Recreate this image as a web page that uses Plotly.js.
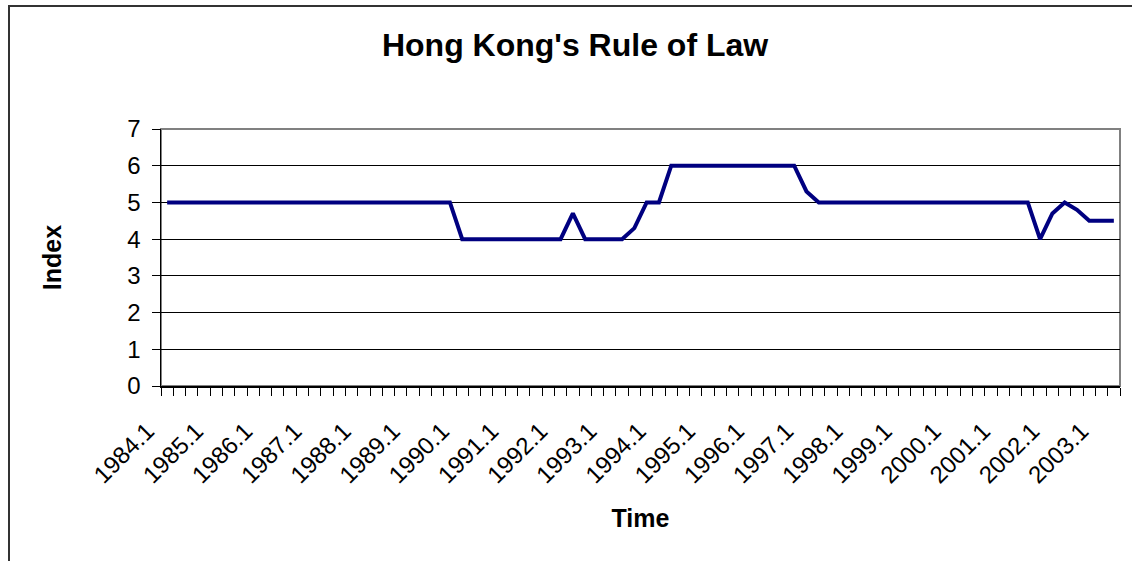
<!DOCTYPE html>
<html>
<head>
<meta charset="utf-8">
<script src="https://cdn.plot.ly/plotly-3.0.1.min.js"></script>
<style>
  html, body { margin: 0; padding: 0; background: #fff; }
  #chart { width: 1132px; height: 561px; position: relative; }
  #frame { position: absolute; left: 8px; top: 5px; width: 2000px; height: 2000px;
           border-left: 2px solid #333; border-top: 2px solid #333; pointer-events: none; }
  #wrap { position: relative; width: 1132px; height: 561px; overflow: hidden; }
</style>
</head>
<body>
<div id="wrap">
  <div id="chart"></div>
  <div id="frame"></div>
</div>
<script>
const categories = [
  "1984.1","1984.2","1984.3","1984.4",
  "1985.1","1985.2","1985.3","1985.4",
  "1986.1","1986.2","1986.3","1986.4",
  "1987.1","1987.2","1987.3","1987.4",
  "1988.1","1988.2","1988.3","1988.4",
  "1989.1","1989.2","1989.3","1989.4",
  "1990.1","1990.2","1990.3","1990.4",
  "1991.1","1991.2","1991.3","1991.4",
  "1992.1","1992.2","1992.3","1992.4",
  "1993.1","1993.2","1993.3","1993.4",
  "1994.1","1994.2","1994.3","1994.4",
  "1995.1","1995.2","1995.3","1995.4",
  "1996.1","1996.2","1996.3","1996.4",
  "1997.1","1997.2","1997.3","1997.4",
  "1998.1","1998.2","1998.3","1998.4",
  "1999.1","1999.2","1999.3","1999.4",
  "2000.1","2000.2","2000.3","2000.4",
  "2001.1","2001.2","2001.3","2001.4",
  "2002.1","2002.2","2002.3","2002.4",
  "2003.1","2003.2"
];

const ruleOfLaw = [
  5, 5, 5, 5,
  5, 5, 5, 5,
  5, 5, 5, 5,
  5, 5, 5, 5,
  5, 5, 5, 5,
  5, 5, 5, 5,
  4, 4, 4, 4,
  4, 4, 4, 4,
  4, 4.7, 4, 4,
  4, 4, 4.3, 5,
  5, 6, 6, 6,
  6, 6, 6, 6,
  6, 6, 6, 6,
  5.3, 5, 5, 5,
  5, 5, 5, 5,
  5, 5, 5, 5,
  5, 5, 5, 5,
  5, 5, 5, 4,
  4.7, 5, 4.8, 4.5,
  4.5, 4.5
];

const labelEvery = 4;
const tickText = categories.map((c, i) => (i % labelEvery === 0 ? c : ""));

const yTicks = [0, 1, 2, 3, 4, 5, 6, 7];

const font = "Liberation Sans, Arial, sans-serif";

const trace = {
  x: categories,
  y: ruleOfLaw,
  type: "scatter",
  mode: "lines",
  line: { color: "#000080", width: 4 },
  hoverinfo: "x+y"
};

const layout = {
  width: 1132,
  height: 561,
  margin: { l: 161, r: 12, t: 129, b: 175 },
  paper_bgcolor: "#ffffff",
  plot_bgcolor: "#ffffff",
  showlegend: false,
  title: {
    text: "<b>Hong Kong's Rule of Law</b>",
    font: { family: font, size: 32, color: "#000" },
    x: 0.508,
    xanchor: "center",
    y: 0.92,
    yanchor: "middle"
  },
  xaxis: {
    type: "category",
    tickmode: "array",
    tickvals: categories,
    ticktext: tickText,
    tickson: "boundaries",
    ticks: "outside",
    ticklen: 8,
    tickwidth: 1,
    tickcolor: "#000",
    tickangle: -45,
    tickfont: { family: font, size: 24, color: "#000" },
    ticklabelstandoff: 20,
    ticklabelshift: -20,
    range: [-0.5, categories.length - 0.5],
    showgrid: false,
    zeroline: false,
    showline: true,
    linecolor: "#000",
    linewidth: 1.5,
    automargin: false,
    title: {
      text: "<b>Time</b>",
      font: { family: font, size: 25, color: "#000" },
      standoff: 22
    }
  },
  yaxis: {
    range: [0, 7],
    tickmode: "array",
    tickvals: yTicks,
    ticktext: yTicks.map(String),
    ticks: "outside",
    ticklen: 8,
    tickwidth: 1,
    tickcolor: "#000",
    tickfont: { family: font, size: 24, color: "#000" },
    ticklabelstandoff: 6,
    showgrid: true,
    gridcolor: "#000",
    gridwidth: 1,
    zeroline: false,
    showline: true,
    linecolor: "#000",
    linewidth: 1.5,
    automargin: false,
    title: {
      text: "<b>Index</b>",
      font: { family: font, size: 25, color: "#000" },
      standoff: 58
    }
  },
  shapes: [{
    type: "rect",
    xref: "paper", yref: "paper",
    x0: 0, x1: 1, y0: 0, y1: 1,
    line: { color: "#808080", width: 2 },
    layer: "below"
  }]
};

Plotly.newPlot("chart", [trace], layout, { displayModeBar: false, staticPlot: true });
</script>
</body>
</html>
